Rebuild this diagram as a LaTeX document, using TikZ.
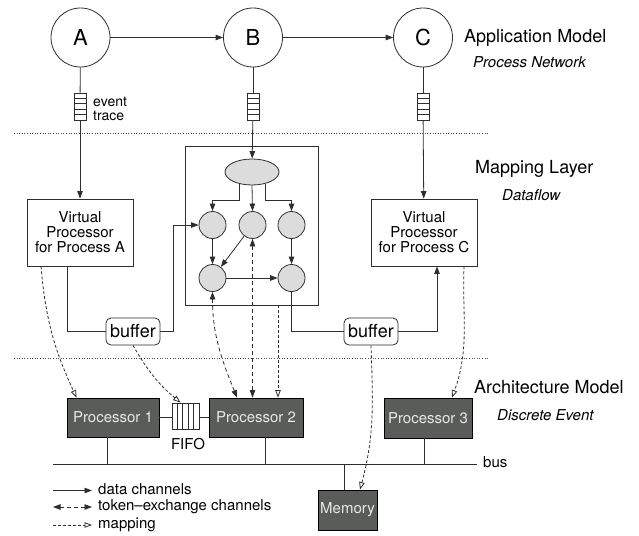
\documentclass[tikz,border=0pt]{standalone}
\usepackage{fontspec}
\setmainfont{TeX Gyre Heros}
\usetikzlibrary{arrows.meta,shapes.geometric,calc}
\definecolor{proccol}{HTML}{5A5C59}
\definecolor{proctext}{HTML}{E8E8E8}
\definecolor{bub}{HTML}{DCDCDC}
\definecolor{wirecol}{HTML}{2E2E2E}
\begin{document}
\begin{tikzpicture}[x=1pt,y=1pt,
  every node/.style={inner sep=0pt},
  wire/.style={line width=0.8pt,draw=wirecol},
  data/.style={wire,-{Triangle[length=7.5pt,width=5.5pt]}},
  token/.style={wire,dash pattern=on 4pt off 3pt,{Triangle[length=7.5pt,width=5.5pt]}-{Triangle[length=7.5pt,width=5.5pt]}},
  mapping/.style={wire,dash pattern=on 3pt off 2pt,-{Triangle[open,length=7.5pt,width=5.5pt]}},
  sepline/.style={line width=0.6pt,draw=black!70,dotted},
  proccirc/.style={circle,wire,fill=white,minimum size=59pt,font=\fontsize{22}{24}\selectfont},
  bubble/.style={circle,wire,fill=bub,minimum size=27pt},
  trace/.style={rectangle,wire,fill=white,minimum width=12pt,minimum height=27pt},
  vp/.style={rectangle,wire,fill=white,minimum width=106pt,minimum height=67pt,align=center,font=\fontsize{15}{15}\selectfont},
  buf/.style={rectangle,rounded corners=5pt,wire,fill=white,minimum width=54pt,minimum height=27pt,font=\fontsize{18}{20}\selectfont},
  proc/.style={rectangle,draw=black,line width=0.8pt,fill=proccol,text=proctext,font=\fontsize{15}{16}\selectfont},
  title/.style={anchor=base west,font=\fontsize{18}{20}\selectfont},
  subtitle/.style={anchor=base west,font=\fontsize{15}{16}\itshape\selectfont},
  small/.style={font=\fontsize{15}{16}\selectfont},
  tiny/.style={font=\fontsize{14}{14}\selectfont}
]
\useasboundingbox (0,0) rectangle (639,-535);

% separators
\coordinate (s1l) at (14,-133); \coordinate (s1r) at (488,-133);
\coordinate (s2l) at (14,-358); \coordinate (s2r) at (488,-358);
\draw[sepline] (s1l) -- (s1r);
\draw[sepline] (s2l) -- (s2r);

% application model
\node[proccirc] (A) at (80.5,-37.5) {A};
\node[proccirc] (B) at (253,-37.5) {B};
\node[proccirc] (C) at (423,-37.5) {C};
\draw[data] (A) -- (B);
\draw[data] (B) -- (C);

\node[trace] (fa) at (80,-106.5) {};
\node[trace] (fb) at (253,-106.5) {};
\node[trace] (fc) at (423,-106.5) {};
\foreach \n in {fa,fb,fc}{
  \foreach \i in {1,...,4}{
    \draw[wire] ($(\n.north west)!\i/5!(\n.south west)$) -- ($(\n.north east)!\i/5!(\n.south east)$);
  }
}
\node[tiny,anchor=base west] (evt1) at (93,-106.5) {event};
\node[tiny,anchor=base west] (evt2) at (93,-120) {trace};

\node[title] (appm) at (464,-43) {Application Model};
\node[subtitle] (pn) at (473,-67) {Process Network};

% mapping layer
\node[vp] (vpa) at (80,-232.5) {Virtual\\Processor\\for Process A};
\node[vp] (vpc) at (424,-232.5) {Virtual\\Processor\\for Process C};
\node[rectangle,wire,minimum width=133pt,minimum height=159pt] (df) at (251.5,-225.5) {};
\node[ellipse,wire,fill=bub,minimum width=54pt,minimum height=26pt] (ell) at (252,-172) {};
\node[bubble] (c1) at (212.5,-225) {};
\node[bubble] (c2) at (252.5,-225) {};
\node[bubble] (c3) at (291.5,-225) {};
\node[bubble] (c4) at (212.5,-278) {};
\node[bubble] (c5) at (291.5,-278) {};
\node[buf] (buf1) at (133,-331.5) {buffer};
\node[buf] (buf2) at (371,-331.5) {buffer};

\node[title] (ml) at (475,-173) {Mapping Layer};
\node[subtitle] (dfl) at (502,-200) {Dataflow};

\draw[wire] (A) -- (fa);
\draw[data] (fa) -- (vpa);
\draw[wire] (B) -- (fb);
\draw[data] (fb) -- (ell);
\draw[wire] (C) -- (fc);
\draw[data] (fc) -- (vpc);

\coordinate (jn) at (0,-200);
\draw[data] (ell.222) -- (ell.222 |- jn) -| (c1.north);
\draw[data] (ell.south) -- (c2.north);
\draw[data] (ell.318) -- (ell.318 |- jn) -| (c3.north);
\draw[data] (c1) -- (c4);
\draw[data] (c2) -- (c4);
\draw[data] (c3) -- (c5);
\draw[data] (c4) -- (c5);

\coordinate (vpab) at ([xshift=-13pt]vpa.south);
\draw[wire] (vpab) |- (buf1.west);
\draw[data] (buf1.east) -- ++(13,0) |- (c1.west);
\draw[wire] (c5.south) |- (buf2.west);
\coordinate (vpcb) at ([xshift=13pt]vpc.south);
\draw[data] (buf2.east) -| (vpcb);

% architecture model
\node[proc,minimum width=92pt,minimum height=39pt] (p1) at (113,-417.5) {Processor 1};
\node[proc,minimum width=94pt,minimum height=39pt] (p2) at (256,-417.5) {Processor 2};
\node[proc,minimum width=88pt,minimum height=40pt] (p3) at (428,-418) {Processor 3};
\node[proc,minimum width=59pt,minimum height=40pt] (mem) at (347.5,-510) {Memory};
\node[rectangle,wire,fill=white,minimum width=27pt,minimum height=26pt] (fifo) at (185.5,-416) {};
\foreach \i in {1,...,4}{
  \draw[wire] ($(fifo.north west)!\i/5!(fifo.north east)$) -- ($(fifo.south west)!\i/5!(fifo.south east)$);
}
\node[small,anchor=base] (fifol) at (188,-449) {FIFO};
\draw[wire] (p1.east) -- (p1.east -| fifo.west);
\draw[wire] (fifo.east |- p2.west) -- (p2.west);

\node[title] (am) at (474,-393) {Architecture Model};
\node[subtitle] (de) at (497,-420) {Discrete Event};

\coordinate (busL) at (53,-464);
\coordinate (busR) at (477,-464);
\draw[wire] (busL) -- (busR);
\node[small,anchor=base west] (bus) at (483,-467) {bus};
\coordinate (p1b) at ([xshift=-6pt]p1.south);
\coordinate (p2b) at ([xshift=9pt]p2.south);
\coordinate (p3b) at ([xshift=-4pt]p3.south);
\coordinate (memt) at ([xshift=-3.5pt]mem.north);
\draw[wire] (p1b) -- (p1b |- busL);
\draw[wire] (p2b) -- (p2b |- busL);
\draw[wire] (p3b) -- (p3b |- busL);
\draw[wire] (memt) -- (memt |- busL);

% mapping arrows
\draw[mapping] ([xshift=-39pt]vpa.south) to[out=-85,in=115] ([xshift=10pt]p1.north west);
\draw[mapping] (buf1.south) to[out=-60,in=140] ([xshift=-5pt]fifo.north);
\draw[token] (c4.south) to[out=-90,in=112] ([xshift=-19pt]p2.north);
\draw[token] (c2.south) -- (c2.south |- p2.north);
\coordinate (dfb) at ([xshift=26.5pt]df.south);
\draw[mapping] (dfb) -- (dfb |- p2.north);
\draw[mapping] (buf2.south) to[out=-88,in=75] ([xshift=12.5pt]mem.north);
\draw[mapping] ([xshift=40pt]vpc.south) to[out=-92,in=70] ([xshift=24pt]p3.north);

% legend
\node[small,anchor=west] (lt1) at (98,-489) {data channels};
\node[small,anchor=west] (lt2) at (98,-507) {token–exchange channels};
\node[small,anchor=west] (lt3) at (98,-525) {mapping};
\coordinate (lg1) at (53,-490.5);
\coordinate (lg2) at (53,-507);
\coordinate (lg3) at (53,-525);
\coordinate (le1) at (92,-490.5);
\coordinate (le2) at (92,-507);
\coordinate (le3) at (92,-525);
\draw[data] (lg1) -- (le1);
\draw[token] (lg2) -- (le2);
\draw[mapping] (lg3) -- (le3);
\end{tikzpicture}
\end{document}
